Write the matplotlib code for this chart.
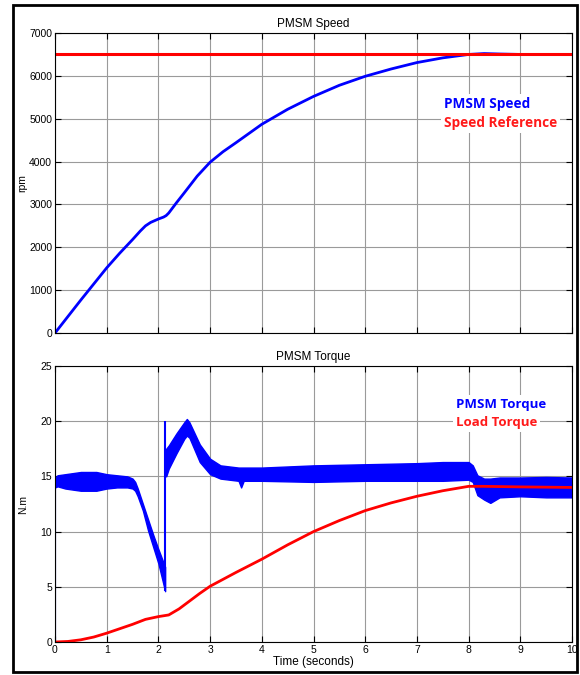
import numpy as np
import matplotlib.pyplot as plt
from matplotlib.patches import Rectangle

# Speed (rpm)
speed_t = [0, 0.5, 1.0, 1.25, 1.5, 1.65, 1.75, 1.85, 2.0, 2.1, 2.15, 2.2, 2.25, 2.35, 2.5, 2.75,
           3.0, 3.25, 3.5, 4.0, 4.5, 5.0, 5.5, 6.0, 6.5, 7.0, 7.5, 8.0, 8.3, 8.6, 9.0, 10.0]
speed = [0, 770, 1520, 1860, 2180, 2380, 2500, 2580, 2660, 2705, 2740, 2800, 2880, 3040, 3270, 3660,
         3985, 4230, 4440, 4870, 5220, 5520, 5780, 5990, 6160, 6310, 6420, 6500, 6520, 6510, 6500, 6500]
speed_ref_t = [0, 10]
speed_ref = [6500, 6500]

# PMSM torque ripple band (upper / lower envelope), before and after the 2.13 s jump
band1_t = [0.0, 0.05, 0.2, 0.5, 0.8, 1.0, 1.2, 1.4, 1.5, 1.55, 1.6, 1.7, 1.8, 1.9, 2.0, 2.13]
band1_hi = [14.9, 15.1, 15.2, 15.4, 15.4, 15.2, 15.1, 15.0, 14.8, 14.5, 13.9, 12.5, 11.1, 9.7, 8.4, 6.8]
band1_lo = [14.0, 14.1, 13.9, 13.7, 13.7, 13.9, 14.0, 14.0, 13.9, 13.7, 13.2, 11.9, 10.1, 8.6, 7.1, 4.6]
band2_t = [2.15, 2.2, 2.35, 2.5, 2.55, 2.6, 2.7, 2.8, 3.0, 3.2, 3.55, 3.6, 3.65, 4.0, 5.0, 6.0, 7.0,
           7.5, 8.0, 8.08, 8.17, 8.3, 8.42, 8.6, 9.0, 9.5, 10.0]
band2_hi = [17.5, 17.8, 18.9, 19.9, 20.2, 19.9, 18.9, 17.9, 16.6, 16.0, 15.8, 15.8, 15.8, 15.8, 16.0, 16.1, 16.2,
            16.3, 16.3, 16.0, 15.1, 14.8, 14.8, 14.9, 14.9, 14.95, 14.9]
band2_lo = [15.0, 15.7, 17.1, 18.4, 18.7, 18.5, 17.4, 16.3, 15.2, 14.8, 14.6, 14.0, 14.6, 14.6, 14.5, 14.6, 14.6,
            14.6, 14.7, 14.5, 13.3, 12.9, 12.6, 13.1, 13.2, 13.1, 13.1]
# thin vertical strokes of the torque trace
jump_t = [0.0, 2.13]
jump_lo = [0.0, 4.6]
jump_hi = [14.4, 20.0]

# Load torque (N.m)
load_t = [0, 0.25, 0.5, 0.75, 1.0, 1.25, 1.5, 1.75, 2.0, 2.2, 2.4, 2.6, 2.8, 3.0, 3.5, 4.0,
          4.5, 5.0, 5.5, 6.0, 6.5, 7.0, 7.5, 8.0, 8.3, 9.0, 10.0]
load = [0, 0.05, 0.2, 0.45, 0.8, 1.2, 1.6, 2.05, 2.3, 2.45, 3.0, 3.7, 4.4, 5.05, 6.3, 7.5,
        8.8, 10.0, 11.0, 11.9, 12.6, 13.2, 13.7, 14.1, 14.1, 14.05, 14.0]

tick_font = dict(family="Liberation Sans", size=7.5)

fig = plt.figure(figsize=(5.8, 6.75), dpi=100)
fig.patches.append(Rectangle((13 / 580, 3 / 675), 564 / 580, 667 / 675, transform=fig.transFigure,
                             fill=False, edgecolor="black", lw=2))

ax1 = fig.add_axes([55 / 580, 1 - 333 / 675, 517 / 580, 300 / 675])
ax2 = fig.add_axes([55 / 580, 1 - 642 / 675, 517 / 580, 276 / 675])

# --- speed ---
ax1.plot(speed_t, speed, color="blue", lw=2)
ax1.plot(speed_ref_t, speed_ref, color="red", lw=2.2)
ax1.set_ylim(0, 7000)
ax1.set_yticks(np.arange(0, 7001, 1000))
ax1.set_xticklabels([])
ax1.set_ylabel("rpm", fontdict=tick_font, labelpad=1)
ax1.set_title("PMSM Speed", fontdict=dict(family="Liberation Sans", size=8.5), pad=4)
ax1.text(0.752, 0.765, "PMSM Speed", transform=ax1.transAxes, color="blue",
         fontsize=9.8, fontweight="bold", family="Open Sans", va="center",
         bbox=dict(facecolor="white", edgecolor="none", pad=2), zorder=5)
ax1.text(0.752, 0.7, "Speed Reference", transform=ax1.transAxes, color="#ff1a1a",
         fontsize=9.8, fontweight="bold", family="Open Sans", va="center",
         bbox=dict(facecolor="white", edgecolor="none", pad=2), zorder=5)

# --- torque ---
ax2.fill_between(band1_t, band1_lo, band1_hi, color="blue", lw=1)
ax2.fill_between(band2_t, band2_lo, band2_hi, color="blue", lw=1)
ax2.vlines(jump_t, jump_lo, jump_hi, color="blue", lw=1.5)
ax2.plot(load_t, load, color="red", lw=2)
ax2.set_ylim(0, 25)
ax2.set_yticks(np.arange(0, 26, 5))
ax2.set_xlabel("Time (seconds)", fontdict=dict(family="Liberation Sans", size=8.5), labelpad=1)
ax2.set_ylabel("N.m", fontdict=tick_font, labelpad=9)
ax2.set_title("PMSM Torque", fontdict=dict(family="Liberation Sans", size=8.5), pad=4)
ax2.text(0.775, 0.86, "PMSM Torque", transform=ax2.transAxes, color="blue",
         fontsize=9.5, fontweight="bold", family="Open Sans", va="center",
         bbox=dict(facecolor="white", edgecolor="none", pad=2), zorder=5)
ax2.text(0.775, 0.795, "Load Torque", transform=ax2.transAxes, color="#ff1a1a",
         fontsize=9.5, fontweight="bold", family="Open Sans", va="center",
         bbox=dict(facecolor="white", edgecolor="none", pad=2), zorder=5)

for ax in (ax1, ax2):
    ax.set_xlim(0, 10)
    ax.set_xticks(np.arange(0, 11, 1))
    ax.grid(True, color="#9a9a9a", lw=0.8)
    ax.set_axisbelow(True)
    ax.tick_params(direction="in", top=True, right=True, length=4, width=0.8, pad=2)
    for lab in ax.get_xticklabels() + ax.get_yticklabels():
        lab.set_family("Liberation Sans")
        lab.set_fontsize(7.5)
    for s in ax.spines.values():
        s.set_linewidth(0.8)

plt.savefig("out.png", dpi=100)
